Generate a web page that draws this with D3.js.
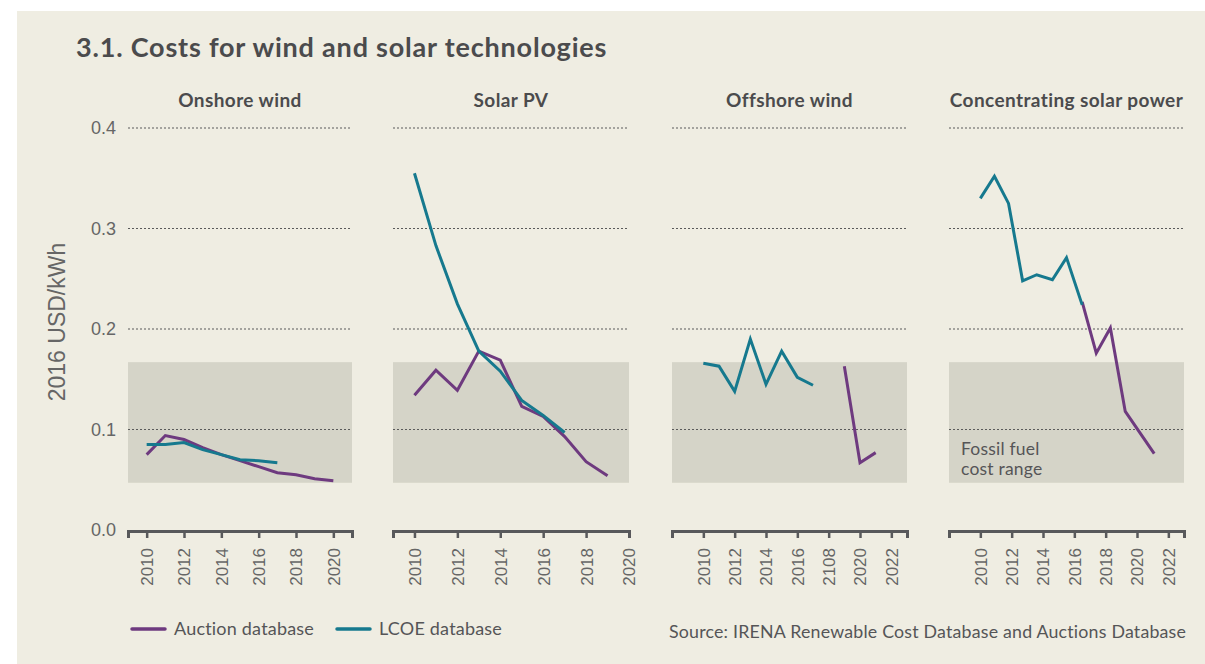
<!DOCTYPE html>
<html>
<head>
<meta charset="utf-8">
<script src="https://cdn.jsdelivr.net/npm/d3@7"></script>
<style>
    body { margin: 0; background: #ffffff; }
    svg { display: block; }
    .title { font-family: Lato, 'Open Sans', sans-serif; font-weight: bold; fill: #4b4b4d; }
    .sans { font-family: 'Liberation Sans', Arial, sans-serif; fill: #666666; }
    .lato { font-family: Lato, 'Open Sans', sans-serif; fill: #555557; letter-spacing: 0.2px; }
</style>
</head>
<body>
<svg id="chart"></svg>
<script>
const PURPLE = '#6e3a7f'
const TEAL = '#16798e'

const panelNames = ['Onshore wind', 'Solar PV', 'Offshore wind', 'Concentrating solar power']

// year ticks, as printed (offshore has a typo in the original)
const tickYearsShort = [2010, 2012, 2014, 2016, 2018, 2020]
const tickYearsLong = [2010, 2012, 2014, 2016, 2018, 2020, 2022]
const tickLabelsShort = ['2010', '2012', '2014', '2016', '2018', '2020']
const tickLabelsLong = ['2010', '2012', '2014', '2016', '2018', '2020', '2022']
const tickLabelsOffshore = ['2010', '2012', '2014', '2016', '2108', '2020', '2022']

const yTicks = [0.0, 0.1, 0.2, 0.3, 0.4]
const fossilRange = [0.047, 0.167]
const fossilNote = ['Fossil fuel', 'cost range']

// Onshore wind
const onshoreAuctionYears = [2010, 2011, 2012, 2013, 2014, 2015, 2016, 2017, 2018, 2019, 2020]
const onshoreAuction = [0.075, 0.094, 0.090, 0.082, 0.075, 0.069, 0.063, 0.057, 0.055, 0.051, 0.049]
const onshoreLcoeYears = [2010, 2011, 2012, 2013, 2014, 2015, 2016, 2017]
const onshoreLcoe = [0.085, 0.085, 0.087, 0.080, 0.075, 0.070, 0.069, 0.067]

// Solar PV
const solarAuctionYears = [2010, 2011, 2012, 2013, 2014, 2015, 2016, 2017, 2018, 2019]
const solarAuction = [0.134, 0.159, 0.139, 0.178, 0.169, 0.123, 0.113, 0.093, 0.068, 0.054]
const solarLcoeYears = [2010, 2011, 2012, 2013, 2014, 2015, 2016, 2017]
const solarLcoe = [0.355, 0.283, 0.225, 0.178, 0.158, 0.129, 0.114, 0.097]

// Offshore wind
const offshoreAuctionYears = [2019, 2020, 2021]
const offshoreAuction = [0.163, 0.067, 0.077]
const offshoreLcoeYears = [2010, 2011, 2012, 2013, 2014, 2015, 2016, 2017]
const offshoreLcoe = [0.166, 0.163, 0.138, 0.190, 0.145, 0.178, 0.152, 0.144]

// Concentrating solar power
const cspAuctionYears = [2016.5, 2017.4, 2018.3, 2019.25, 2021.1]
const cspAuction = [0.227, 0.176, 0.201, 0.118, 0.076]
const cspLcoeYears = [2010, 2010.9, 2011.8, 2012.7, 2013.6, 2014.6, 2015.5, 2016.5]
const cspLcoe = [0.330, 0.352, 0.325, 0.248, 0.254, 0.249, 0.271, 0.224]

const zip = (xs, ys) => xs.map((x, i) => ({ year: x, value: ys[i] }))

const panels = [
    { name: panelNames[0], x0: 128, x1: 352, domain: [2009, 2021], ticks: tickYearsShort, labels: tickLabelsShort,
      auction: zip(onshoreAuctionYears, onshoreAuction), lcoe: zip(onshoreLcoeYears, onshoreLcoe) },
    { name: panelNames[1], x0: 393, x1: 629, domain: [2009, 2020], ticks: tickYearsShort, labels: tickLabelsShort,
      auction: zip(solarAuctionYears, solarAuction), lcoe: zip(solarLcoeYears, solarLcoe) },
    { name: panelNames[2], x0: 672, x1: 907, domain: [2008, 2023], ticks: tickYearsLong, labels: tickLabelsOffshore,
      auction: zip(offshoreAuctionYears, offshoreAuction), lcoe: zip(offshoreLcoeYears, offshoreLcoe) },
    { name: panelNames[3], x0: 949, x1: 1184, domain: [2008, 2023], ticks: tickYearsLong, labels: tickLabelsLong,
      auction: zip(cspAuctionYears, cspAuction), lcoe: zip(cspLcoeYears, cspLcoe), note: true }
]

const W = 1205
const H = 664
const axisY = 531

const svg = d3.select('#chart')
    .attr('width', W)
    .attr('height', H)

svg.append('rect')
    .attr('x', 17)
    .attr('y', 11)
    .attr('width', W - 17)
    .attr('height', H - 11)
    .style('fill', '#efede2')

svg.append('text')
    .attr('class', 'title')
    .attr('x', 76)
    .attr('y', 57)
    .style('font-size', '27px')
    .style('letter-spacing', '0.8px')
    .text('3.1. Costs for wind and solar technologies')

let y = d3.scaleLinear()
    .domain([0, 0.4])
    .range([530, 128])

// y tick labels
svg.selectAll('text.ytick')
    .data(yTicks)
    .enter().append('text')
    .attr('class', 'ytick sans')
    .attr('x', 116)
    .attr('y', d => y(d))
    .attr('dy', '0.35em')
    .style('text-anchor', 'end')
    .style('font-size', '18px')
    .text(d => d3.format('.1f')(d))

svg.append('text')
    .attr('class', 'sans')
    .attr('transform', 'translate(65, 322) rotate(-90)')
    .style('text-anchor', 'middle')
    .style('font-size', '23px')
    .text('2016 USD/kWh')

const line = x => d3.line()
    .x(d => x(d.year))
    .y(d => y(d.value))

panels.forEach(p => {
    let x = d3.scaleLinear().domain(p.domain).range([p.x0, p.x1])
    let g = svg.append('g')

    g.append('rect')
        .attr('x', p.x0)
        .attr('y', y(fossilRange[1]))
        .attr('width', p.x1 - p.x0)
        .attr('height', y(fossilRange[0]) - y(fossilRange[1]))
        .style('fill', '#d5d4c8')

    g.selectAll('line.grid')
        .data(yTicks.slice(1))
        .enter().append('line')
        .attr('class', 'grid')
        .attr('x1', p.x0)
        .attr('x2', p.x1)
        .attr('y1', d => y(d))
        .attr('y2', d => y(d))
        .style('stroke', '#5a5a5a')
        .style('stroke-width', 1.2)
        .style('stroke-dasharray', '2,2')

    g.append('text')
        .attr('class', 'title')
        .attr('x', (p.x0 + p.x1) / 2)
        .attr('y', 107)
        .style('text-anchor', 'middle')
        .style('font-size', '19px')
        .style('letter-spacing', '0.4px')
        .text(p.name)

    if (p.note) {
        g.selectAll('text.note')
            .data(fossilNote)
            .enter().append('text')
            .attr('class', 'note lato')
            .attr('x', p.x0 + 12)
            .attr('y', (d, i) => 455 + i * 20)
            .style('font-size', '17.5px')
            .text(d => d)
    }

    g.append('path')
        .datum(p.auction)
        .attr('d', line(x))
        .style('fill', 'none')
        .style('stroke', PURPLE)
        .style('stroke-width', 3)

    g.append('path')
        .datum(p.lcoe)
        .attr('d', line(x))
        .style('fill', 'none')
        .style('stroke', TEAL)
        .style('stroke-width', 3)

    let xAxis = d3.axisBottom(x)
        .tickValues(p.ticks)
        .tickFormat((d, i) => p.labels[i])
        .tickSize(7)
        .tickSizeOuter(7)

    let ax = g.append('g')
        .attr('transform', `translate(0, ${axisY})`)
        .call(xAxis)

    ax.select('.domain')
        .style('stroke', '#58595b')
        .style('stroke-width', 3)
    ax.selectAll('.tick line')
        .style('stroke', '#58595b')
        .style('stroke-width', 2.5)
    ax.selectAll('text')
        .attr('class', 'sans')
        .attr('transform', 'rotate(-90)')
        .attr('x', -17)
        .attr('y', 0)
        .attr('dy', '0.35em')
        .style('text-anchor', 'end')
        .style('font-size', '17px')
        .style('fill', '#666666')
        .style('font-family', "'Liberation Sans', Arial, sans-serif")
})

// legend
const legendItems = ['Auction database', 'LCOE database']
const legendColors = [PURPLE, TEAL]
const legendX = [132, 337]

legendItems.forEach((name, i) => {
    svg.append('line')
        .attr('x1', legendX[i])
        .attr('x2', legendX[i] + 33)
        .attr('y1', 629)
        .attr('y2', 629)
        .style('stroke', legendColors[i])
        .style('stroke-width', 3.5)
        .style('stroke-linecap', 'round')
    svg.append('text')
        .attr('class', 'lato')
        .attr('x', legendX[i] + 42)
        .attr('y', 635)
        .style('font-size', '18px')
        .text(name)
})

svg.append('text')
    .attr('class', 'lato')
    .attr('x', 669)
    .attr('y', 638)
    .style('font-size', '17.8px')
    .text('Source: IRENA Renewable Cost Database and Auctions Database')
</script>
</body>
</html>
